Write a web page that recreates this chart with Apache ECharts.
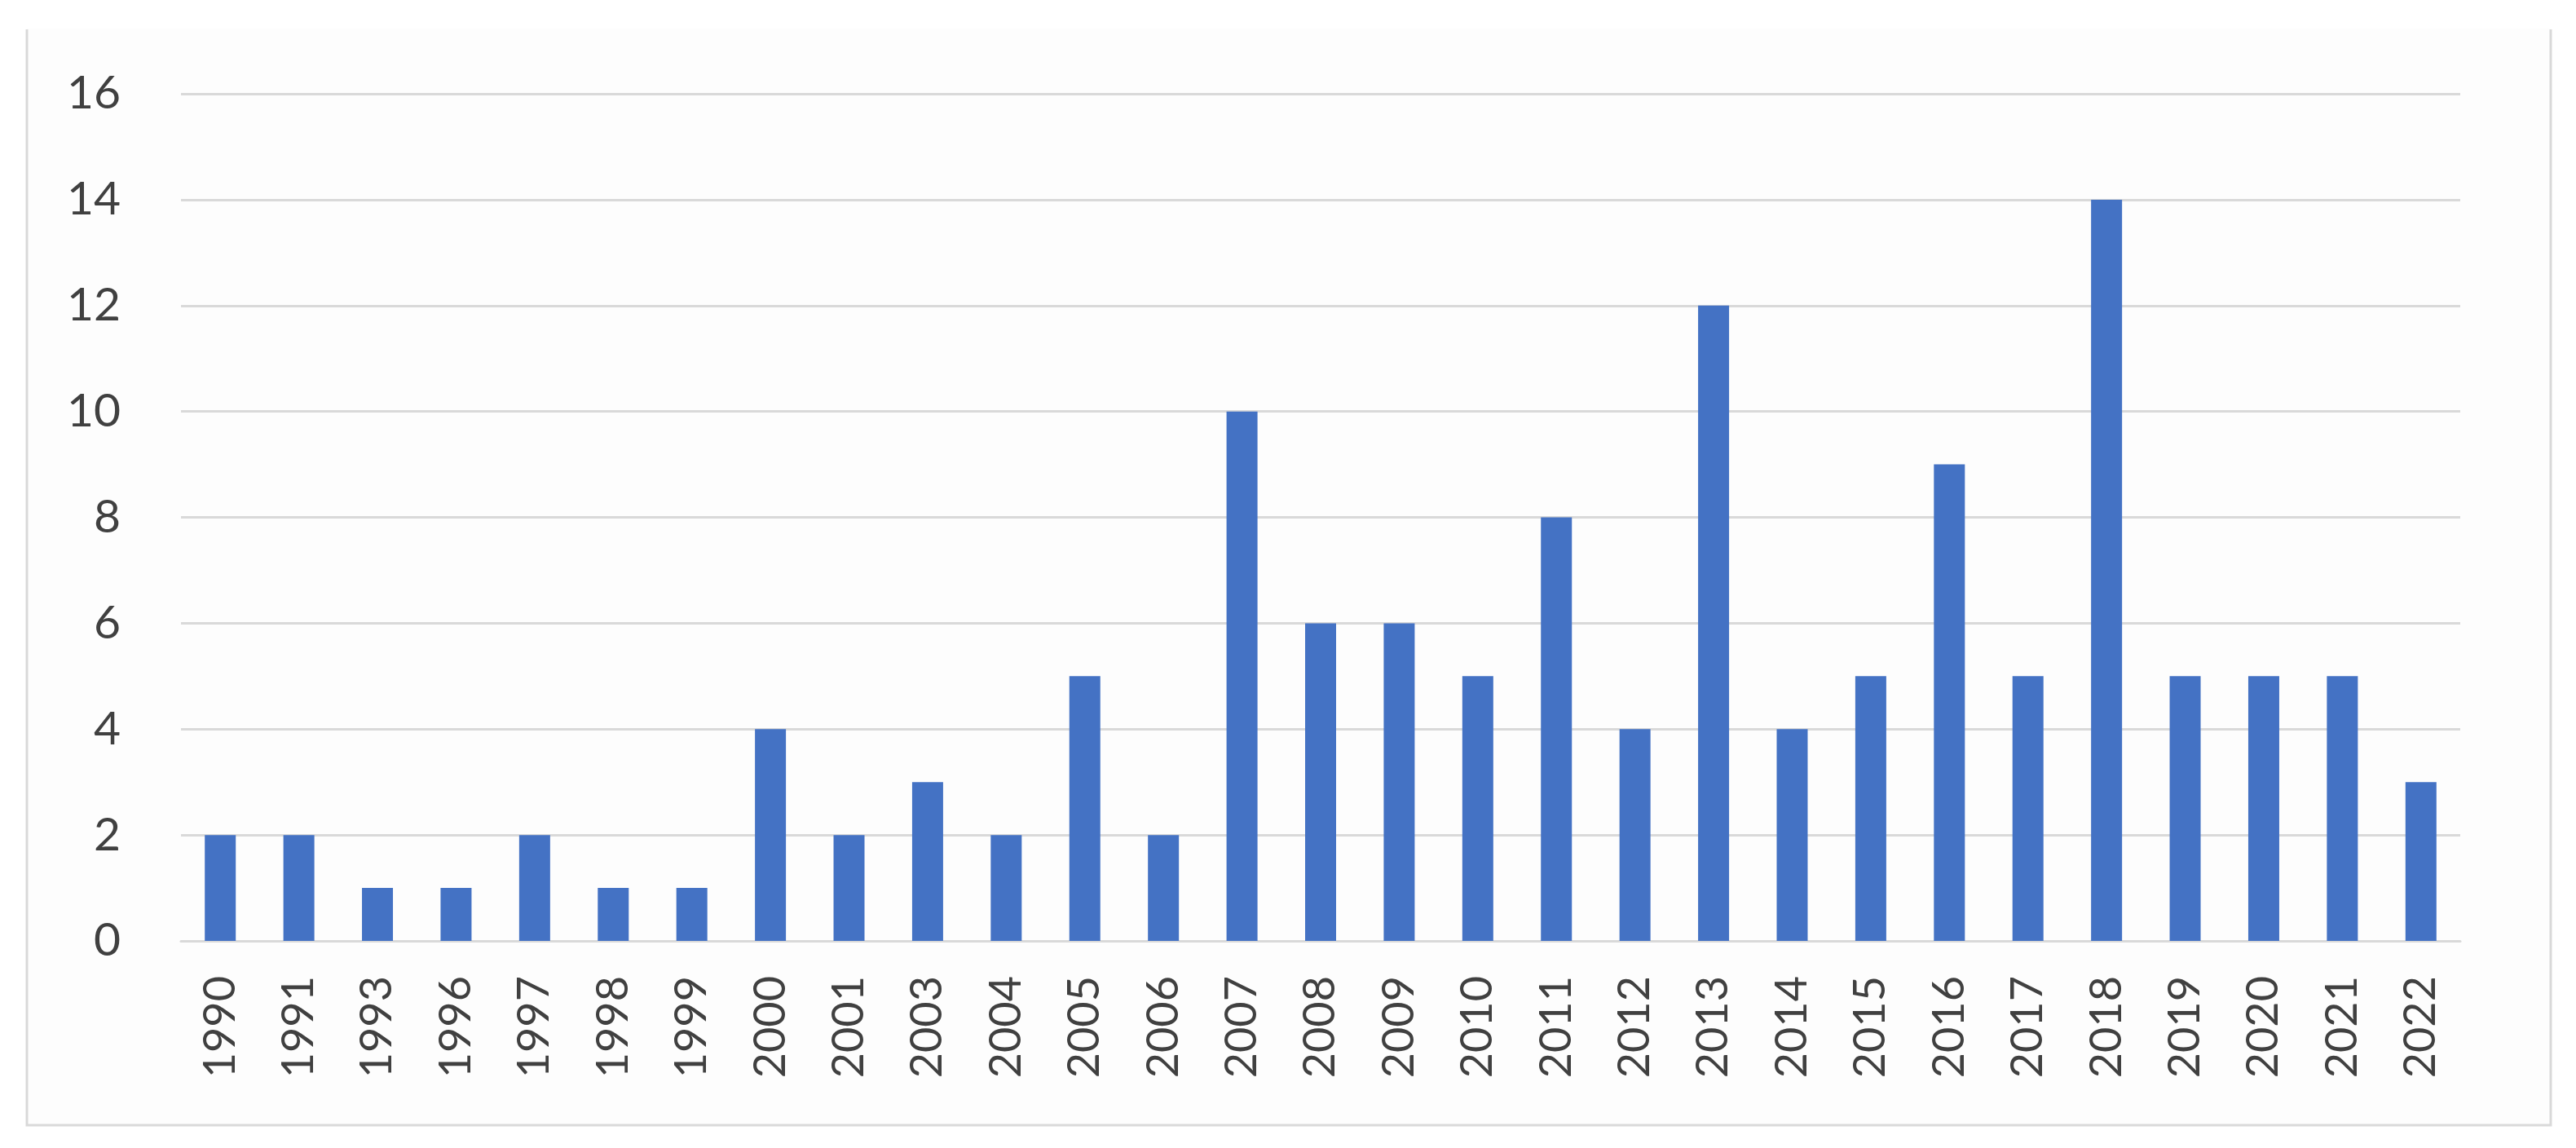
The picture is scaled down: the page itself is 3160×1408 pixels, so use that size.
<!DOCTYPE html>
<html>
<head>
<meta charset="utf-8">
<title>chart</title>
<script src="https://cdn.jsdelivr.net/npm/echarts@6/dist/echarts.min.js"></script>
<style>
  html, body { margin: 0; padding: 0; background: #fff; }
  #main { width: 3160px; height: 1408px; }
</style>
</head>
<body>
<div id="main"></div>
<script>
// years on the x axis
var years = ['1990', '1991', '1993', '1996', '1997', '1998', '1999', '2000', '2001', '2003',
  '2004', '2005', '2006', '2007', '2008', '2009', '2010', '2011', '2012', '2013',
  '2014', '2015', '2016', '2017', '2018', '2019', '2020', '2021', '2022'];
// bar heights
var counts = [2, 2, 1, 1, 2, 1, 1, 4, 2, 3,
  2, 5, 2, 10, 6, 6, 5, 8, 4, 12,
  4, 5, 9, 5, 14, 5, 5, 5, 3];
// y ticks
var yTicks = [0, 2, 4, 6, 8, 10, 12, 14, 16];

var chart = echarts.init(document.getElementById('main'));

chart.setOption({
  animation: false,
  backgroundColor: '#ffffff',
  textStyle: { fontFamily: 'Lato' },
  graphic: [
    {
      type: 'rect',
      z: -10,
      shape: { x: 33, y: 35, width: 3096, height: 1345 },
      style: { fill: '#fdfdfd', stroke: null }
    },
    {
      type: 'polyline',
      z: -9,
      shape: { points: [[33, 36], [33, 1380], [3129, 1380], [3129, 36]] },
      style: { stroke: '#d9d9d9', lineWidth: 3, fill: null }
    }
  ],
  grid: {
    left: 222,
    right: 142,
    top: 115,
    bottom: 254
  },
  xAxis: {
    type: 'category',
    data: years,
    axisLine: { show: true, lineStyle: { color: '#d9d9d9', width: 3 } },
    axisTick: { show: false },
    axisLabel: {
      rotate: 90,
      margin: 43,
      color: '#404040',
      fontSize: 54,
      fontFamily: 'Lato'
    }
  },
  yAxis: {
    type: 'value',
    min: yTicks[0],
    max: yTicks[yTicks.length - 1],
    interval: 2,
    axisLine: { show: false },
    axisTick: { show: false },
    splitLine: { lineStyle: { color: '#d9d9d9', width: 3 } },
    axisLabel: {
      margin: 74,
      color: '#404040',
      fontSize: 57,
      fontFamily: 'Lato'
    }
  },
  series: [
    {
      type: 'bar',
      data: counts,
      barWidth: 38,
      itemStyle: { color: '#4472c4' }
    }
  ]
});
</script>
</body>
</html>
